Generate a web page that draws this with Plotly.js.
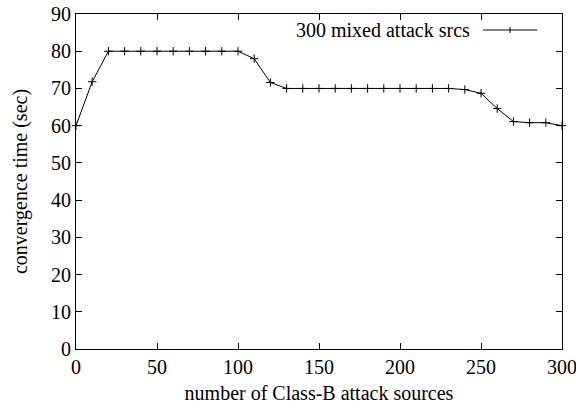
<!DOCTYPE html>
<html>
<head>
<meta charset="utf-8">
<script src="https://cdn.plot.ly/plotly-3.0.1.min.js"></script>
<style>body{margin:0;background:#fff}#chart{width:576px;height:411px}</style>
</head>
<body>
<div id="chart"></div>
<script>
const seriesName = "300 mixed attack srcs";
const xValues = [0,10,20,30,40,50,60,70,80,90,100,110,120,130,140,150,160,170,180,190,200,210,220,230,240,250,260,270,280,290,300];
const yValues = [60,71.8,80,80,80,80,80,80,80,80,80,78,71.6,70,70,70,70,70,70,70,70,70,70,70,69.7,68.7,64.6,61.1,60.8,60.8,60];
const xTitle = "number of Class-B attack sources";
const yTitle = "convergence time (sec)";

const font = {family: "Liberation Serif", size: 20, color: "#000"};

const trace = {
  x: xValues, y: yValues, type: "scatter", mode: "lines+markers", name: seriesName,
  line: {color: "#000", width: 1},
  marker: {symbol: "cross-thin-open", size: 6, color: "#000", line: {color: "#000", width: 1}},
  showlegend: false, cliponaxis: false
};

const layout = {
  width: 576, height: 411,
  margin: {l: 76, r: 14, t: 14, b: 62},
  paper_bgcolor: "#fff", plot_bgcolor: "#fff",
  font: font,
  xaxis: {
    range: [0, 300], tickvals: [0,50,100,150,200,250,300], ticks: "inside", ticklen: 6, tickcolor: "#000",
    mirror: "ticks", showline: true, linecolor: "#000", linewidth: 1, showgrid: false, zeroline: false,
    ticklabeloverflow: "allow", automargin: false,
    title: {text: xTitle, font: font, standoff: 8}, tickfont: font
  },
  yaxis: {
    range: [0, 90], tickvals: [0,10,20,30,40,50,60,70,80,90], ticks: "inside", ticklen: 6, tickcolor: "#000",
    mirror: "ticks", showline: true, linecolor: "#000", linewidth: 1, showgrid: false, zeroline: false,
    automargin: false,
    title: {text: yTitle, font: font, standoff: 18}, tickfont: font
  },
  annotations: [{
    xref: "paper", yref: "paper", x: (472-76)/486, y: 1-(30-14)/335, xanchor: "right", yanchor: "middle",
    text: seriesName, showarrow: false, font: font
  }],
  shapes: [
    {type: "line", xref: "paper", yref: "paper", x0: (483-76)/486, x1: (537-76)/486, y0: 1-(30-14)/335, y1: 1-(30-14)/335, line: {color: "#000", width: 1}},
    {type: "line", xref: "paper", yref: "paper", x0: (510-76)/486, x1: (510-76)/486, y0: 1-(27-14)/335, y1: 1-(33-14)/335, line: {color: "#000", width: 1}}
  ]
};

Plotly.newPlot("chart", [trace], layout, {displayModeBar: false, staticPlot: true});
</script>
</body>
</html>
